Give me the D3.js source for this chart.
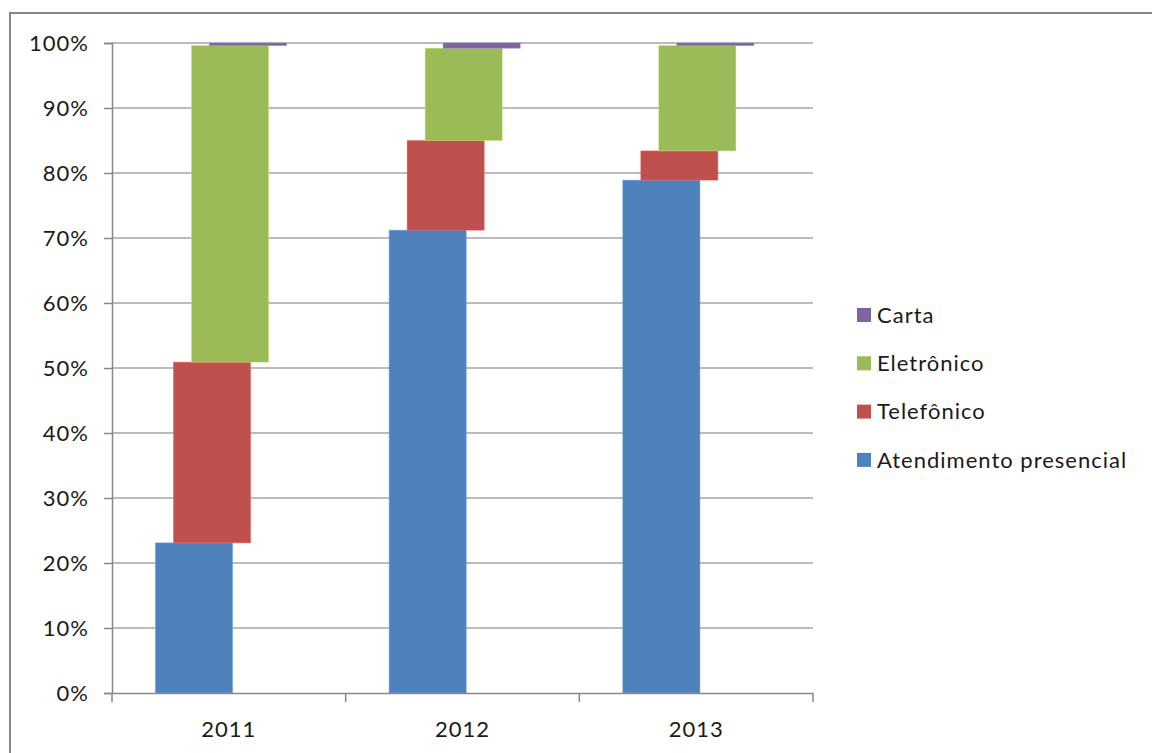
<!DOCTYPE html>
<html>
<head>
<meta charset="utf-8">
<script src="https://cdn.jsdelivr.net/npm/d3@7"></script>
<style>
  html, body { margin: 0; padding: 0; background: #ffffff; }
  svg { display: block; }
  text { font-family: Lato, "Open Sans", sans-serif; fill: #1a1a1a; letter-spacing: 1px; }
</style>
</head>
<body>
<svg id="chart" width="1152" height="753"></svg>
<script>
// Categories (years)
const years = ["2011", "2012", "2013"];

// Share of each service channel per year (percent)
const presencial = [23.1, 71.2, 78.9];
const telefonico = [27.8, 13.8, 4.5];
const eletronico = [48.7, 14.2, 16.2];
const carta = [0.4, 0.8, 0.4];

// Series names, bottom to top in the stack
const seriesNames = ["Atendimento presencial", "Telefônico", "Eletrônico", "Carta"];
const seriesColors = ["#4F81BD", "#C0504D", "#9BBB59", "#8064A2"];

// Y axis tick values (fractions)
const yTicks = [0, 0.1, 0.2, 0.3, 0.4, 0.5, 0.6, 0.7, 0.8, 0.9, 1.0];

const fontSize = "22px";

const svg = d3.select("#chart");

// Outer chart frame
svg.append("path")
  .attr("d", "M10,760 L10,13 L1160,13")
  .attr("fill", "none")
  .attr("stroke", "#878787")
  .attr("stroke-width", 2);

const plot = { left: 112, right: 813, top: 43, bottom: 693 };

const x = d3.scaleBand().domain(years).range([plot.left, plot.right]).padding(0);
const y = d3.scaleLinear().domain([0, 1]).range([plot.bottom, plot.top]);

// Horizontal gridlines
svg.append("g")
  .selectAll("line")
  .data(yTicks.filter(d => d > 0))
  .join("line")
  .attr("x1", plot.left).attr("x2", plot.right)
  .attr("y1", d => y(d)).attr("y2", d => y(d))
  .attr("stroke", "#a6a6a6")
  .attr("stroke-width", 1.5);

// Stack the series
const table = years.map((yr, i) => ({
  year: yr,
  "Atendimento presencial": presencial[i] / 100,
  "Telefônico": telefonico[i] / 100,
  "Eletrônico": eletronico[i] / 100,
  "Carta": carta[i] / 100
}));
const stacked = d3.stack().keys(seriesNames)(table);

// Each series is shifted a little to the right of the one below it
const bw = x.bandwidth();
const barW = bw * 0.33;
const barStart = bw * 0.186;
const seriesShift = bw * 0.077;

const bars = svg.append("g");
stacked.forEach((layer, si) => {
  bars.append("g")
    .selectAll("rect")
    .data(layer)
    .join("rect")
    .attr("x", d => x(d.data.year) + barStart + si * seriesShift)
    .attr("width", barW)
    .attr("y", d => y(d[1]))
    .attr("height", d => y(d[0]) - y(d[1]))
    .attr("fill", seriesColors[si])
    .attr("stroke", d3.color(seriesColors[si]).brighter(0.6))
    .attr("stroke-opacity", 0.6)
    .attr("stroke-width", 0.8);
});

// Y axis
const yAxis = svg.append("g")
  .attr("transform", `translate(${plot.left},0)`)
  .call(d3.axisLeft(y).tickValues(yTicks).tickFormat(d3.format(".0%")).tickSize(8).tickPadding(15));
yAxis.select(".domain").attr("stroke", "#888888").attr("stroke-width", 1.5);
yAxis.selectAll(".tick line").attr("stroke", "#888888").attr("stroke-width", 1.5);
yAxis.selectAll(".tick text")
  .style("font-family", "Lato, 'Open Sans', sans-serif")
  .style("font-size", fontSize)
  .attr("fill", "#1a1a1a");

// X axis: labels at band centres, ticks at band boundaries
const xAxis = svg.append("g")
  .attr("transform", `translate(0,${plot.bottom})`)
  .call(d3.axisBottom(x).tickSize(0).tickPadding(28));
xAxis.select(".domain").attr("stroke", "#888888").attr("stroke-width", 1.5);
xAxis.selectAll(".tick text")
  .style("font-family", "Lato, 'Open Sans', sans-serif")
  .style("font-size", fontSize)
  .attr("fill", "#1a1a1a");
const boundaries = years.map(d => x(d)).concat([x(years[years.length - 1]) + bw]);
xAxis.append("g")
  .selectAll("line")
  .data(boundaries)
  .join("line")
  .attr("x1", d => d).attr("x2", d => d)
  .attr("y1", 0).attr("y2", 9)
  .attr("stroke", "#888888")
  .attr("stroke-width", 1.5);

// Legend (top entry is the top of the stack)
const legendOrder = seriesNames.map((n, i) => ({ name: n, color: seriesColors[i] })).reverse();
const legend = svg.append("g").attr("transform", "translate(857,315)");
const item = legend.selectAll("g")
  .data(legendOrder)
  .join("g")
  .attr("transform", (d, i) => `translate(0,${i * 48.3})`);
item.append("rect")
  .attr("x", 0).attr("y", -7)
  .attr("width", 14).attr("height", 14)
  .attr("fill", d => d.color);
item.append("text")
  .attr("x", 20).attr("y", 0).attr("dy", "0.35em")
  .style("font-size", fontSize)
  .text(d => d.name);
</script>
</body>
</html>
